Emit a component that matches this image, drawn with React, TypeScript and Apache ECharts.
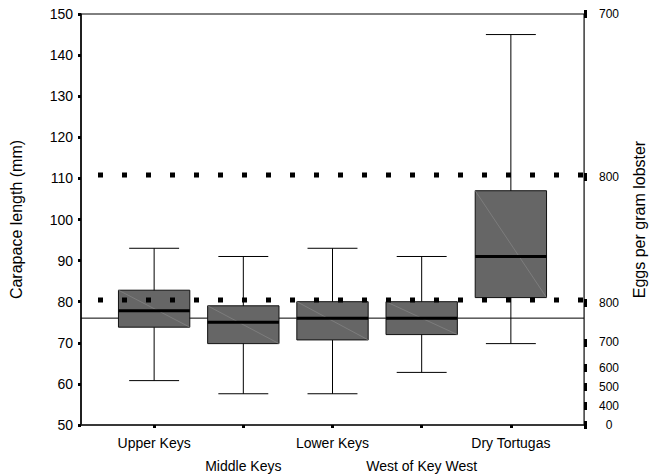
import React, { useEffect, useRef } from "react";
import * as echarts from "echarts";

// Sites along the Florida Keys
const categories = ["Upper Keys", "Middle Keys", "Lower Keys", "West of Key West", "Dry Tortugas"];
// Carapace length box stats (mm): lower whisker, Q1, median, Q3, upper whisker
const whiskerLow = [60.8, 57.6, 57.6, 62.8, 69.8];
const quartile1 = [73.8, 69.8, 70.7, 72.0, 81.0];
const medians = [77.8, 75.0, 76.0, 76.0, 91.0];
const quartile3 = [82.8, 79.0, 80.0, 80.0, 107.0];
const whiskerHigh = [93.0, 91.0, 93.0, 91.0, 145.0];

// Reference lines (mm)
const overallMean = 76;
const dottedLevels = [110.8, 80.4];

// Right axis: positions on the carapace scale and their egg-count labels
const eggTickPositions = [150, 110.3, 79.7, 70.1, 63.9, 59.3, 54.6, 50];
const eggTickLabels = ["700", "800", "800", "700", "600", "500", "400", "0"];

const FONT = "'Liberation Sans', Arial, sans-serif";
const X_MIN = -0.82;
const X_MAX = 4.82;
const SITE_POSITIONS = categories.map((_, i) => i);
// Site names are staggered over two rows so the long ones do not collide
const ROW1_SITES = SITE_POSITIONS.filter((i) => i % 2 === 0);
const ROW2_SITES = SITE_POSITIONS.filter((i) => i % 2 === 1);

export default function App() {
  const ref = useRef<HTMLDivElement>(null);

  useEffect(() => {
    if (!ref.current) return;
    const chart = echarts.init(ref.current, null, { renderer: "svg" });

    const boxData = categories.map((_, i) => [
      i,
      whiskerLow[i],
      quartile1[i],
      medians[i],
      quartile3[i],
      whiskerHigh[i],
    ]);

    const renderBox = (params: any, api: any) => {
      const x = api.value(0);
      const lo = api.coord([x, api.value(1)]);
      const q1 = api.coord([x, api.value(2)]);
      const med = api.coord([x, api.value(3)]);
      const q3 = api.coord([x, api.value(4)]);
      const hi = api.coord([x, api.value(5)]);
      const halfBox = api.size([0.8, 0])[0] / 2;
      const halfCap = api.size([0.56, 0])[0] / 2;
      const cx = lo[0];
      const lineStyle = { stroke: "#000", lineWidth: 1 };
      return {
        type: "group",
        children: [
          { type: "line", shape: { x1: cx, y1: lo[1], x2: cx, y2: hi[1] }, style: lineStyle },
          { type: "line", shape: { x1: cx - halfCap, y1: lo[1], x2: cx + halfCap, y2: lo[1] }, style: lineStyle },
          { type: "line", shape: { x1: cx - halfCap, y1: hi[1], x2: cx + halfCap, y2: hi[1] }, style: lineStyle },
          {
            type: "rect",
            shape: { x: cx - halfBox, y: q3[1], width: halfBox * 2, height: q1[1] - q3[1] },
            style: { fill: "#666666", stroke: "#111", lineWidth: 1 },
          },
          {
            type: "line",
            shape: { x1: cx - halfBox, y1: q3[1], x2: cx + halfBox, y2: q1[1] },
            style: { stroke: "#8c8c8c", lineWidth: 0.6 },
          },
          {
            type: "line",
            shape: { x1: cx - halfBox, y1: med[1], x2: cx + halfBox, y2: med[1] },
            style: { stroke: "#000", lineWidth: 3 },
          },
        ],
      };
    };

    const hLine = (y: number) => [
      [X_MIN, y],
      [X_MAX, y],
    ];

    const siteLabel = (margin: number, values: number[]) => ({
      customValues: values,
      showMinLabel: true,
      showMaxLabel: true,
      hideOverlap: false,
      margin,
      fontSize: 14,
      color: "#000",
      fontFamily: FONT,
      formatter: (v: number) => categories[Math.round(v)] ?? "",
    });

    chart.setOption({
      animation: false,
      backgroundColor: "#fff",
      textStyle: { fontFamily: FONT },
      grid: {
        left: 81,
        right: 65,
        top: 14,
        bottom: 51,
        outerBoundsMode: "none",
        containLabel: false,
        show: true,
        borderColor: "#000",
        borderWidth: 1,
        backgroundColor: "transparent",
      },
      xAxis: [
        {
          type: "value",
          position: "bottom",
          min: X_MIN,
          max: X_MAX,
          splitLine: { show: false },
          axisLine: { show: true, onZero: false, lineStyle: { color: "#222", width: 1.5 } },
          axisTick: {
            show: true,
            customValues: SITE_POSITIONS,
            length: 3,
            lineStyle: { color: "#000", width: 3 },
          },
          axisLabel: siteLabel(11, ROW1_SITES),
        },
        {
          type: "value",
          position: "bottom",
          min: X_MIN,
          max: X_MAX,
          splitLine: { show: false },
          axisLine: { show: false, onZero: false },
          axisTick: { show: false },
          axisLabel: siteLabel(34, ROW2_SITES),
        },
      ],
      yAxis: [
        {
          type: "value",
          min: 50,
          max: 150,
          interval: 10,
          name: "Carapace length (mm)",
          nameLocation: "middle",
          nameRotate: 90,
          nameGap: 57,
          nameTextStyle: { fontSize: 16, color: "#000", fontFamily: FONT },
          splitLine: { show: false },
          axisLine: { show: true, onZero: false, lineStyle: { color: "#000", width: 1.5 } },
          axisTick: { show: true, length: 3, lineStyle: { color: "#000", width: 3 } },
          axisLabel: { fontSize: 14, color: "#000", margin: 8, fontFamily: FONT },
        },
        {
          type: "value",
          position: "right",
          min: 50,
          max: 150,
          name: "Eggs per gram lobster",
          nameLocation: "middle",
          nameRotate: 90,
          nameGap: 47,
          nameTextStyle: { fontSize: 16, color: "#000", fontFamily: FONT },
          splitLine: { show: false },
          axisLine: { show: true, onZero: false, lineStyle: { color: "#555", width: 1 } },
          axisTick: {
            show: true,
            customValues: eggTickPositions,
            length: 3,
            lineStyle: { color: "#000", width: 8 },
          },
          axisLabel: {
            customValues: eggTickPositions,
            showMinLabel: true,
            showMaxLabel: true,
            fontSize: 12,
            color: "#000",
            margin: 25,
            align: "center",
            fontFamily: FONT,
            formatter: (v: number) => {
              let best = 0;
              eggTickPositions.forEach((p, i) => {
                if (Math.abs(p - v) < Math.abs(eggTickPositions[best] - v)) best = i;
              });
              return eggTickLabels[best];
            },
          },
        },
      ],
      series: [
        {
          type: "line",
          data: hLine(overallMean),
          symbol: "none",
          silent: true,
          lineStyle: { color: "#000", width: 1 },
          z: 1,
        },
        {
          type: "custom",
          renderItem: renderBox,
          data: boxData,
          encode: { x: 0, y: [1, 2, 3, 4, 5] },
          z: 2,
        },
        ...dottedLevels.map((lvl) => ({
          type: "line",
          data: hLine(lvl),
          symbol: "none",
          silent: true,
          lineStyle: { color: "#000", width: 5, type: [5, 19], dashOffset: 7, cap: "butt" },
          z: 3,
        })),
      ],
    });

    return () => chart.dispose();
  }, []);

  return (
    <div
      ref={ref}
      style={{ position: "fixed", left: 0, top: 0, width: 649, height: 476, background: "#fff" }}
    />
  );
}
